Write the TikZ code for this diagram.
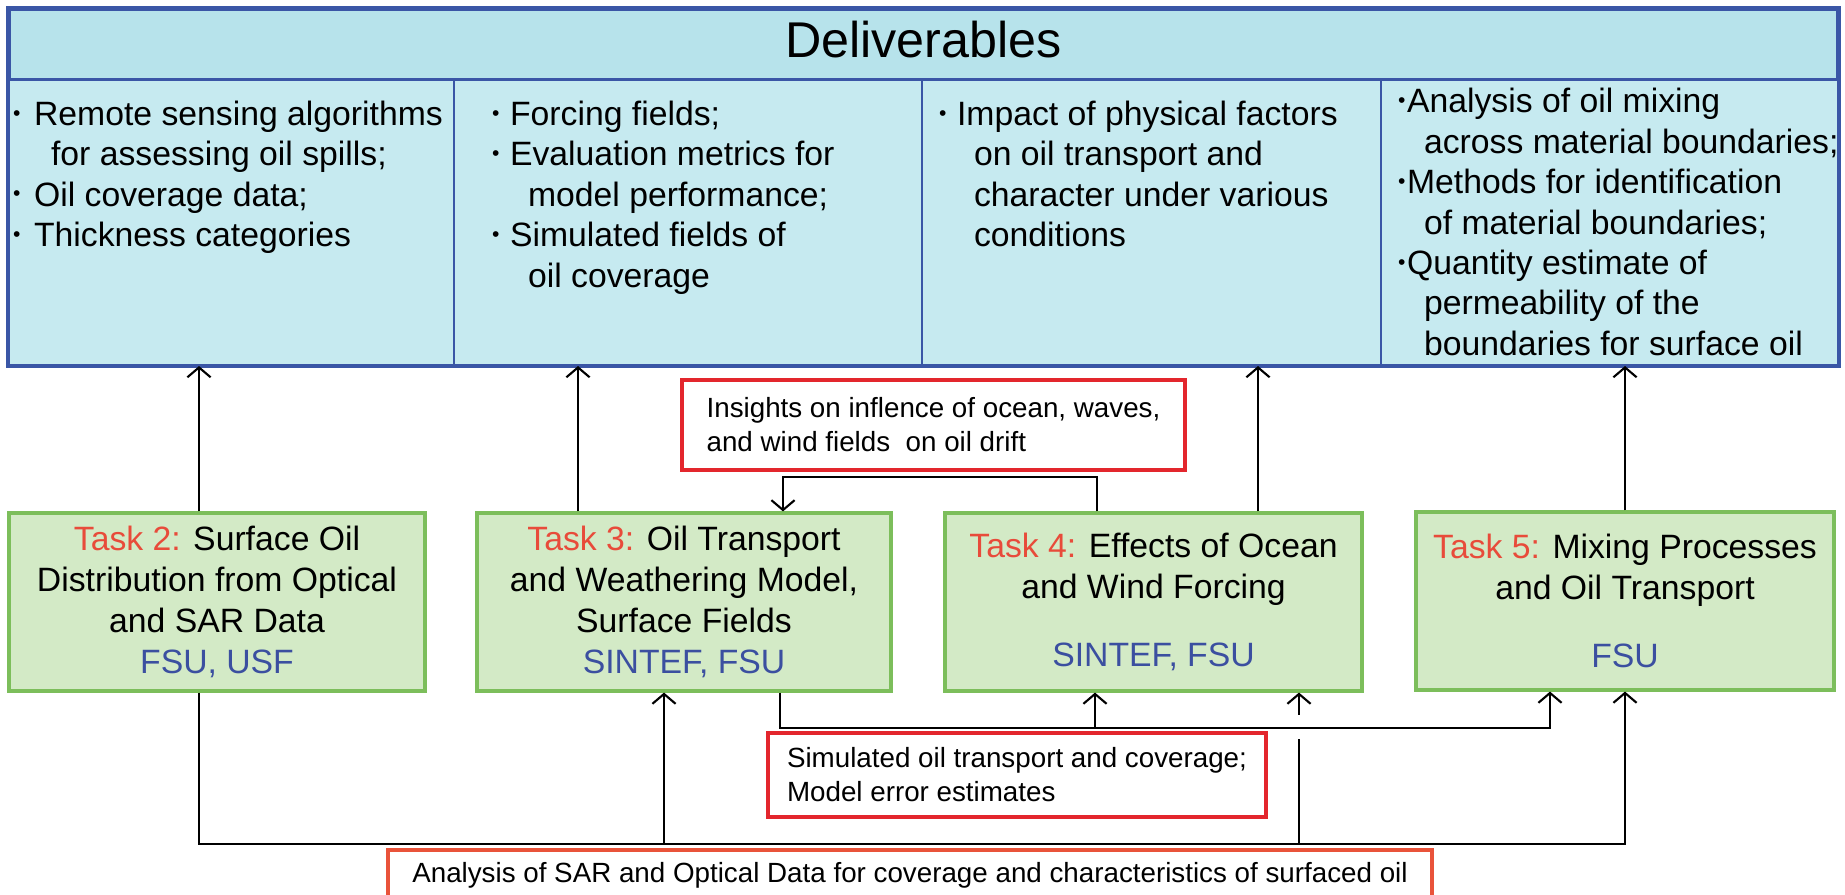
\documentclass[tikz,border=0pt]{standalone}
\usepackage{fontspec}
\setmainfont{Liberation Sans}
\usetikzlibrary{arrows.meta}

\definecolor{delhead}{HTML}{B7E3EB}
\definecolor{delfill}{HTML}{C6EAF0}
\definecolor{delline}{HTML}{3A56A6}
\definecolor{taskfill}{HTML}{D3EAC6}
\definecolor{taskline}{HTML}{7CBE5B}
\definecolor{boxred}{HTML}{E3262D}
\definecolor{boxorange}{HTML}{E9533A}
\definecolor{tasklbl}{HTML}{E84B3A}
\definecolor{orgblue}{HTML}{3B4FA0}

\newcommand{\blt}[1][2.1mm]{\makebox[#1][l]{\raisebox{0.3ex}{\fontsize{6}{6}\selectfont\textbullet}}}
\newcommand{\tsk}[1]{\textcolor{tasklbl}{Task #1:}}
\newcommand{\org}[1]{\textcolor{orgblue}{#1}}

\begin{document}
\begin{tikzpicture}
  [x=0.1mm,y=-0.1mm,line width=0.6pt,>={Straight Barb[length=2.8pt,width=6.6pt]},
   cell/.style={draw=delline,fill=delfill,line width=0.6pt,inner sep=0pt,minimum height=28.5mm},
   items/.style={align=left,inner sep=0pt,font=\fontsize{9.6}{11.5}\selectfont},
   task/.style={draw=taskline,fill=taskfill,line width=0.9pt,minimum width=41.6mm,
     minimum height=17.8mm,align=center,font=\fontsize{9.6}{11.7}\selectfont},
   note/.style={draw=boxred,line width=1.2pt,fill=white,align=left,font=\fontsize{7.9}{9.7}\selectfont}]
  \useasboundingbox (0,0) rectangle (1845,895);

  \node (hdr) at (923.5,44.5) [draw=delline,fill=delhead,line width=0.9pt,minimum width=182.9mm,
    minimum height=7.1mm,text depth=1mm,font=\fontsize{14.3}{16}\selectfont] {Deliverables};
  \node (d1) at (231.5,222.5) [cell,minimum width=44.5mm] {};
  \node (d2) at (688,222.5) [cell,minimum width=46.8mm] {};
  \node (d3) at (1151.5,222.5) [cell,minimum width=45.9mm] {};
  \node (d4) at (1609.5,222.5) [cell,minimum width=45.7mm] {};
  \draw [delline,line width=0.9pt] (hdr.north west) rectangle (d4.south east);

  \node (d1txt) at (12,100) [items,anchor=north west] {\blt Remote sensing algorithms\\
    \hspace*{3.8mm}for assessing oil spills;\\\blt Oil coverage data;\\\blt Thickness categories};
  \node (d2txt) at (491,100) [items,anchor=north west] {\blt[1.8mm]Forcing fields;\\
    \blt[1.8mm]Evaluation metrics for\\\hspace*{3.6mm}model performance;\\
    \blt[1.8mm]Simulated fields of\\\hspace*{3.6mm}oil coverage};
  \node (d3txt) at (938,100) [items,anchor=north west] {\blt[1.8mm]Impact of physical factors\\
    \hspace*{3.5mm}on oil transport and\\\hspace*{3.5mm}character under various\\
    \hspace*{3.5mm}conditions};
  \node (d4txt) at (1397,222) [items,anchor=west] {\blt[0.9mm]Analysis of oil mixing\\
    \hspace*{2.6mm}across material boundaries;\\\blt[0.9mm]Methods for identification\\
    \hspace*{2.6mm}of material boundaries;\\\blt[0.9mm]Quantity estimate of\\
    \hspace*{2.6mm}permeability of the\\\hspace*{2.6mm}boundaries for surface oil};

  \node (t2) at (217,602) [task] {\tsk{2} Surface Oil\\Distribution from Optical\\
    and SAR Data\\\org{FSU, USF}};
  \node (t3) at (684,602) [task,minimum width=41.4mm] {\tsk{3} Oil Transport\\
    and Weathering Model,\\Surface Fields\\\org{SINTEF, FSU}};
  \node (t4) at (1153.5,602) [task,minimum width=41.7mm] {\tsk{4} Effects of Ocean\\
    and Wind Forcing\\[7.7pt]\org{SINTEF, FSU}};
  \node (t5) at (1625,601) [task,minimum width=41.8mm] {\tsk{5} Mixing Processes\\
    and Oil Transport\\[7.7pt]\org{FSU}};

  \node (ins) at (933.5,425) [note,minimum width=50.3mm,minimum height=9mm]
    {Insights on inflence of ocean, waves,\\and wind fields~ on oil drift};
  \node (sim) at (1017,775) [note,minimum width=49.8mm,minimum height=8.4mm]
    {Simulated oil transport and coverage;\\Model error estimates};
  \node (ana) at (910,875) [note,draw=boxorange,minimum width=104.4mm,minimum height=4.6mm]
    {Analysis of SAR and Optical Data for coverage and characteristics of surfaced oil};

  % results up to the deliverables
  \draw [->] ([xshift=-1.8mm]t2.north) -- ([xshift=-1.8mm]t2.north |- d1.south);
  \draw [->] ([xshift=-10.6mm]t3.north) -- ([xshift=-10.6mm]t3.north |- d2.south);
  \draw [->] ([xshift=10.45mm]t4.north) -- ([xshift=10.45mm]t4.north |- d3.south);
  \draw [->] (t5.north) -- (t5.north |- d4.south);

  % feedback from task 4
  \draw [->] ([xshift=-5.65mm]t4.north) -- ++(0,-34) -| ([xshift=9.9mm]t3.north);

  % model output
  \coordinate (simjn) at ([xshift=9.6mm,yshift=-3.5mm]t3.south);
  \draw [->] (t3.south -| simjn) -- (simjn) -| ([xshift=-7.5mm]t5.south);
  \draw [->] ([xshift=-5.85mm]t4.south |- simjn) -- ([xshift=-5.85mm]t4.south);

  % observations
  \coordinate (anajn) at ([xshift=-1.8mm,yshift=-15.1mm]t2.south);
  \coordinate (x3b) at ([xshift=-2mm]t3.south);
  \coordinate (x4b) at ([xshift=14.55mm]t4.south);
  \draw [->] (t2.south -| anajn) -- (anajn) -| (t5.south);
  \draw [->] (x3b |- anajn) -- (x3b);
  \draw (x4b |- anajn) -- ++(0,-105);
  \draw [->] (x4b |- simjn) ++(0,-13) -- (x4b);
\end{tikzpicture}
\end{document}
